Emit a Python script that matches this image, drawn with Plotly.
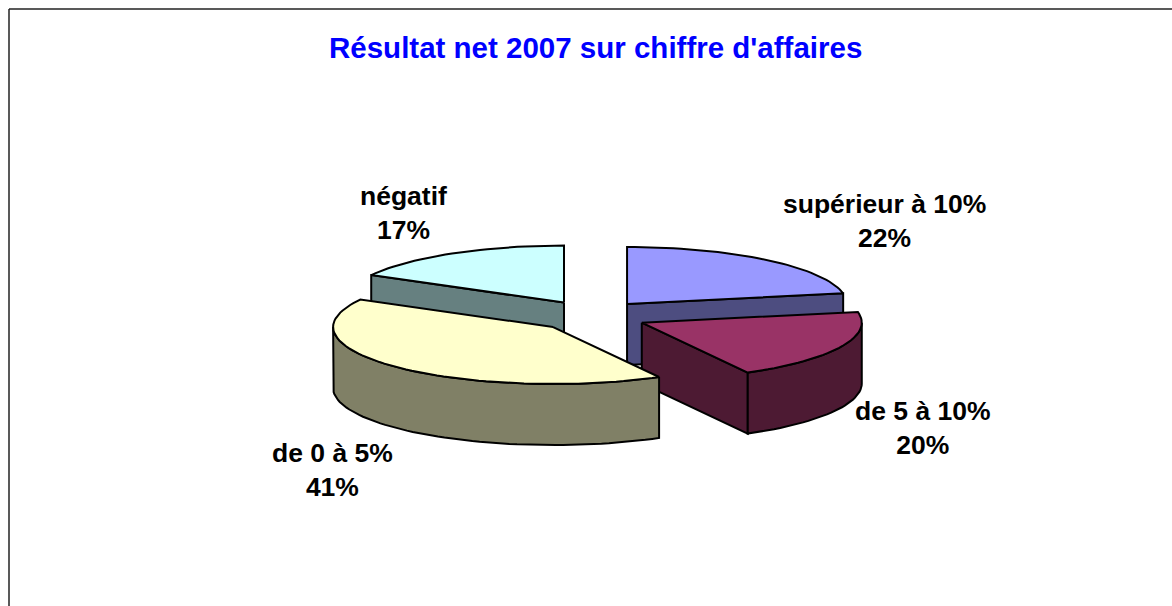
import math
import plotly.graph_objects as go

categories = ["supérieur à 10%", "de 5 à 10%", "de 0 à 5%", "négatif"]
values = [22, 20, 41, 17]
top_colors = ["#9999FF", "#993366", "#FFFFCC", "#CCFFFF"]
wall_colors = ["#4D4D80", "#4D1A33", "#808066", "#668080"]
title_text = "Résultat net 2007 sur chiffre d'affaires"
label_xy = [(884, 221), (923, 428), (332, 470), (403, 213)]

CX, CY = 592, 316      # pie centre, px
RX, RY = 220, 57       # ellipse radii
DEPTH = 61             # wall height
EX, EY = 55, 15.6      # explosion offsets
DRAW_ORDER = [3, 0, 1, 2]

total = sum(values)
spans, acc = [], 0.0
for v in values:
    spans.append((acc, acc + v / total * 360))
    acc += v / total * 360


def rim(ax, ay, deg):
    a = math.radians(deg)
    return ax + RX * math.sin(a), ay - RY * math.cos(a)


def arc(ax, ay, a0, a1):
    n = max(2, int(abs(a1 - a0) / 2))
    return [rim(ax, ay, a0 + (a1 - a0) * i / n) for i in range(n + 1)]


fig = go.Figure()


def poly(pts, color):
    xs = [p[0] for p in pts] + [pts[0][0]]
    ys = [p[1] for p in pts] + [pts[0][1]]
    fig.add_trace(go.Scatter(x=xs, y=ys, mode="lines", fill="toself", fillcolor=color,
                             line=dict(color="#000000", width=2), hoverinfo="skip",
                             showlegend=False))


for i in DRAW_ORDER:
    a0, a1 = spans[i]
    mid = math.radians((a0 + a1) / 2)
    ax, ay = CX + EX * math.sin(mid), CY - EY * math.cos(mid)
    wall = wall_colors[i]
    # radial faces that look toward the viewer
    if 180 < a0 % 360 < 360:
        r = rim(ax, ay, a0)
        poly([(ax, ay), r, (r[0], r[1] + DEPTH), (ax, ay + DEPTH)], wall)
    if 0 < a1 % 360 < 180:
        r = rim(ax, ay, a1)
        poly([(ax, ay), r, (r[0], r[1] + DEPTH), (ax, ay + DEPTH)], wall)
    # outer curved wall: front half of the rim only
    f0, f1 = max(a0, 90), min(a1, 270)
    if f1 > f0:
        top = arc(ax, ay, f0, f1)
        poly(top + [(x, y + DEPTH) for x, y in reversed(top)], wall)
    # top face
    poly([(ax, ay)] + arc(ax, ay, a0, a1), top_colors[i])

annotations = [
    dict(x=x, y=y, text=f"<b>{c}</b><br><b>{v}%</b>", showarrow=False, xanchor="center",
         yanchor="middle", font=dict(family="Liberation Sans", size=26.5, color="#000000"))
    for c, v, (x, y) in zip(categories, values, label_xy)
]
annotations.append(dict(x=595, y=47, text=f"<b>{title_text}</b>", showarrow=False,
                        xanchor="center", yanchor="middle",
                        font=dict(family="Liberation Sans", size=29.5, color="#0000FF")))

fig.update_layout(
    width=1172, height=606, margin=dict(l=0, r=0, t=0, b=0),
    paper_bgcolor="#FFFFFF", plot_bgcolor="#FFFFFF", showlegend=False,
    xaxis=dict(range=[0, 1172], visible=False, fixedrange=True),
    yaxis=dict(range=[606, 0], visible=False, fixedrange=True),
    annotations=annotations,
    shapes=[dict(type="line", xref="x", yref="y", x0=9, y0=9, x1=1172, y1=9,
                 line=dict(color="#222222", width=1.5)),
            dict(type="line", xref="x", yref="y", x0=9, y0=9, x1=9, y1=606,
                 line=dict(color="#222222", width=1.5))],
)
fig.write_html("out.html", config=dict(displayModeBar=False),
               post_script="document.body.style.margin='0';document.body.style.overflow='hidden';")
